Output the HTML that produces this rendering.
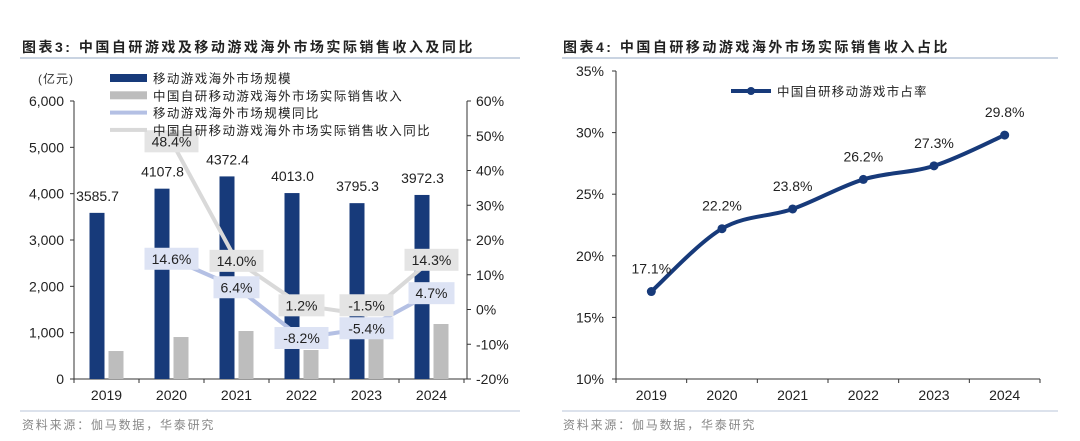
<!DOCTYPE html>
<html><head><meta charset="utf-8">
<style>
body{margin:0;background:#fff;width:1080px;height:436px;overflow:hidden;font-family:"Liberation Sans","Noto Sans CJK SC",sans-serif;}
svg text{font-family:"Liberation Sans","Noto Sans CJK SC",sans-serif;}
</style></head><body>
<svg id="s" width="1080" height="436" xmlns="http://www.w3.org/2000/svg">
<text x="22" y="52" font-size="14" font-weight="bold" fill="#222" letter-spacing="2.5">图表3:  中国自研游戏及移动游戏海外市场实际销售收入及同比</text>
<line x1="20" y1="58" x2="520" y2="58" stroke="#b8c6d8" stroke-width="1.5"/>
<text x="563" y="52" font-size="14" font-weight="bold" fill="#222" letter-spacing="2.5">图表4:  中国自研移动游戏海外市场实际销售收入占比</text>
<line x1="562" y1="58" x2="1058" y2="58" stroke="#b8c6d8" stroke-width="1.5"/>
<line x1="20" y1="411" x2="520" y2="411" stroke="#b8c6d8" stroke-width="1"/>
<line x1="562" y1="411" x2="1058" y2="411" stroke="#b8c6d8" stroke-width="1"/>
<text x="22" y="429" font-size="12" fill="#888" letter-spacing="1.8">资料来源：伽马数据，华泰研究</text>
<text x="563" y="429" font-size="12" fill="#888" letter-spacing="1.8">资料来源：伽马数据，华泰研究</text>
<text x="38" y="83" font-size="12" fill="#333" letter-spacing="1">(亿元)</text>
<g id="L"></g><g id="R"></g>
</svg>
<script>
const years=['2019','2020','2021','2022','2023','2024'];
const marketSize=[3585.7,4107.8,4372.4,4013.0,3795.3,3972.3];
const selfRevenue=[604,906,1036,626,863,1187];
const marketYoY=[null,14.6,6.4,-8.2,-5.4,4.7];
const selfYoY=[null,48.4,14.0,1.2,-1.5,14.3];
const leftTicks=[0,1000,2000,3000,4000,5000,6000];
const rightTicks=[-20,-10,0,10,20,30,40,50,60];
const share=[17.1,22.2,23.8,26.2,27.3,29.8];
const shareTicks=[10,15,20,25,30,35];
const NS='http://www.w3.org/2000/svg';
function mk(p,t,a,txt){const e=document.createElementNS(NS,t);for(const k in a)e.setAttribute(k,a[k]);if(txt!=null)e.textContent=txt;p.appendChild(e);return e;}
const L=document.getElementById('L'),R=document.getElementById('R');
const x0=74,x1=464,yT=101,yB=379,bw=(x1-x0)/6;
const yL=v=>yB-(v/6000)*(yB-yT);
const yR=v=>yB-((v+20)/80)*(yB-yT);
const xc=i=>x0+bw*(i+0.5);
let e;
e=mk(L,'line',{x1:x0,y1:yT,x2:x0,y2:yB,stroke:'#333'});
e=mk(L,'line',{x1:x1+3,y1:yT,x2:x1+3,y2:yB,stroke:'#333'});
e=mk(L,'line',{x1:x0,y1:yB,x2:x1+3,y2:yB,stroke:'#333'});
leftTicks.forEach(v=>{const y=yL(v);mk(L,'line',{x1:x0-4,y1:y,x2:x0,y2:y,stroke:'#333'});
e=mk(L,'text',{x:x0-10,y:y+5,'font-size':14,'text-anchor':'end',fill:'#222'},v.toLocaleString('en-US'));});
rightTicks.forEach(v=>{const y=yR(v);mk(L,'line',{x1:x1+3,y1:y,x2:x1+7,y2:y,stroke:'#333'});
e=mk(L,'text',{x:x1+12,y:y+5,'font-size':14,fill:'#222'},v+'%');});
for(let i=0;i<=6;i++)mk(L,'line',{x1:x0+bw*i,y1:yB,x2:x0+bw*i,y2:yB+4,stroke:'#333'});
years.forEach((yr,i)=>{
 e=mk(L,'text',{x:xc(i),y:yB+21,'font-size':14,'text-anchor':'middle',fill:'#222'},yr);
 e=mk(L,'rect',{x:xc(i)-17,y:yL(marketSize[i]),width:15,height:yB-yL(marketSize[i]),fill:'#173a7a'});
 e=mk(L,'rect',{x:xc(i)+2,y:yL(selfRevenue[i]),width:15,height:yB-yL(selfRevenue[i]),fill:'#bdbdbd'});
 e=mk(L,'text',{x:xc(i)-9,y:yL(marketSize[i])-12,'font-size':14,'text-anchor':'middle',fill:'#222'},marketSize[i].toFixed(1));
});
function drawLine(arr,col,name){
 let d='';arr.forEach((v,i)=>{if(v==null)return;d+=(d?'L':'M')+xc(i)+' '+yR(v);});
 e=mk(L,'path',{d:d,fill:'none',stroke:col,'stroke-width':4,'stroke-linejoin':'round'});
}
function drawLabels(arr,other,box,name,dir){
 arr.forEach((v,i)=>{if(v==null)return;let y=yR(v);
  const o=other[i];if(o!=null){const oy=yR(o);if(Math.abs(oy-y)<24){y=dir<0?Math.min(y,oy-23):Math.max(y,oy+23);}}
  if(y<112)y=112+ (y<100?0:0);
  const t=v.toFixed(1)+'%';const w=t.length*8+14;
  e=mk(L,'rect',{x:xc(i)-w/2,y:y-11,width:w,height:22,fill:box});
  e=mk(L,'text',{x:xc(i),y:y+5,'font-size':14,'text-anchor':'middle',fill:'#222'},t);});
}
drawLine(selfYoY,'#d9d9d9','self-yoy');
drawLine(marketYoY,'#b4c0e4','market-yoy');
drawLabels(marketYoY,[],'#dde3f4','market-yoy',1);
drawLabels(selfYoY,marketYoY,'#e4e4e4','self-yoy',-1);
const leg=[['#173a7a','移动游戏海外市场规模',8],['#bdbdbd','中国自研移动游戏海外市场实际销售收入',8],['#b4c0e4','移动游戏海外市场规模同比',4],['#d9d9d9','中国自研移动游戏海外市场实际销售收入同比',4]];
leg.forEach((l,i)=>{const y=78+i*17.3;
 e=mk(L,'rect',{x:110,y:y-l[2]/2,width:37,height:l[2],fill:l[0]});
 e=mk(L,'text',{x:153,y:y+5,'font-size':12.5,fill:'#222','letter-spacing':1.4},l[1]);});
const rx0=616,rx1=1040,ryT=71,ryB=379,rbw=(rx1-rx0)/6;
const ry=v=>ryB-((v-10)/25)*(ryB-ryT);
const rxc=i=>rx0+rbw*(i+0.5);
e=mk(R,'line',{x1:rx0,y1:ryT,x2:rx0,y2:ryB,stroke:'#333'});
e=mk(R,'line',{x1:rx0,y1:ryB,x2:rx1,y2:ryB,stroke:'#333'});
shareTicks.forEach(v=>{const y=ry(v);mk(R,'line',{x1:rx0-4,y1:y,x2:rx0,y2:y,stroke:'#333'});
 e=mk(R,'text',{x:rx0-12,y:y+5,'font-size':14,'text-anchor':'end',fill:'#222'},v+'%');});
for(let i=0;i<=6;i++)mk(R,'line',{x1:rx0+rbw*i,y1:ryB,x2:rx0+rbw*i,y2:ryB+4,stroke:'#333'});
let pts=share.map((v,i)=>[rxc(i),ry(v)]);
let d='M'+pts[0][0]+' '+pts[0][1];
for(let i=0;i<pts.length-1;i++){const p0=pts[Math.max(0,i-1)],p1=pts[i],p2=pts[i+1],p3=pts[Math.min(pts.length-1,i+2)];
 const c1=[p1[0]+(p2[0]-p0[0])/6,p1[1]+(p2[1]-p0[1])/6],c2=[p2[0]-(p3[0]-p1[0])/6,p2[1]-(p3[1]-p1[1])/6];
 d+='C'+c1+' '+c2+' '+p2;}
e=mk(R,'path',{d:d,fill:'none',stroke:'#173a7a','stroke-width':4});
share.forEach((v,i)=>{
 e=mk(R,'circle',{cx:rxc(i),cy:ry(v),r:4.5,fill:'#173a7a'});
 e=mk(R,'text',{x:rxc(i),y:ry(v)-18,'font-size':14,'text-anchor':'middle',fill:'#222'},v.toFixed(1)+'%');
 e=mk(R,'text',{x:rxc(i),y:ryB+21,'font-size':14,'text-anchor':'middle',fill:'#222'},years[i]);
});
e=mk(R,'line',{x1:731,y1:91,x2:771,y2:91,stroke:'#173a7a','stroke-width':4});
e=mk(R,'circle',{cx:751,cy:91,r:4,fill:'#173a7a'});
e=mk(R,'text',{x:777,y:96,'font-size':12.5,fill:'#222','letter-spacing':1.2},'中国自研移动游戏市占率');
</script>
</body></html>
